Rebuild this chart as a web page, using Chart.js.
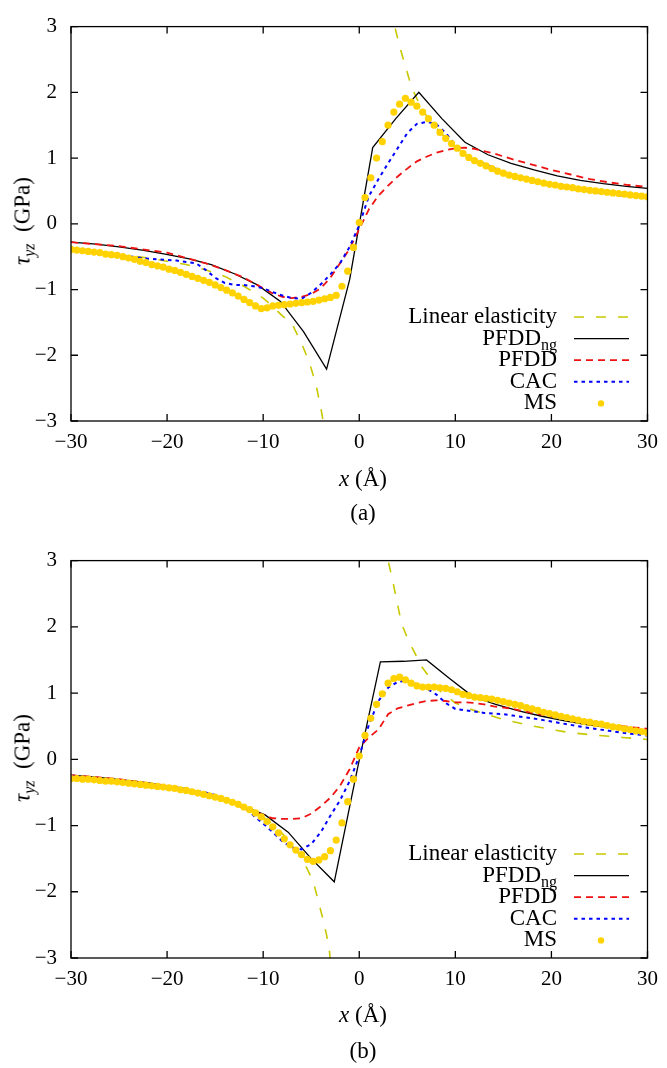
<!DOCTYPE html>
<html>
<head>
<meta charset="utf-8">
<script src="https://cdn.jsdelivr.net/npm/chart.js@4"></script>
<style>
  body { margin: 0; background: #fff; }
  #wrap { position: relative; width: 667px; height: 1068px; font-family: 'Liberation Serif', serif; color: #000; }
  canvas { position: absolute; left: 0; }
  .t { position: absolute; font-size: 23px; line-height: 1; white-space: nowrap; transform: translate(-50%, -50%); }
  .yl { transform: translate(-50%, -50%) rotate(-90deg); }
  .t sub { font-size: 16px; vertical-align: -5px; }
</style>
</head>
<body>
<div id="wrap">
  <canvas id="chartA" width="667" height="534" style="top:0"></canvas>
  <canvas id="chartB" width="667" height="534" style="top:534px"></canvas>
  <div class="t yl" style="left:24px; top:221px"><i>τ</i><sub><i>yz</i></sub>&nbsp;&nbsp;(GPa)</div>
  <div class="t" style="left:363px; top:478px"><i>x</i>&nbsp;(Å)</div>
  <div class="t" style="left:363px; top:512px">(a)</div>
  <div class="t yl" style="left:24px; top:758px"><i>τ</i><sub><i>yz</i></sub>&nbsp;&nbsp;(GPa)</div>
  <div class="t" style="left:363px; top:1014px"><i>x</i>&nbsp;(Å)</div>
  <div class="t" style="left:363px; top:1050px">(b)</div>
</div>
<script>
const xTicks = [-30, -20, -10, 0, 10, 20, 30];
const yTicks = [-3, -2, -1, 0, 1, 2, 3];
const seriesNames = ['Linear elasticity', 'PFDD', 'PFDD', 'CAC', 'MS'];

// (a) linear elasticity, null splits the two branches
const leXA = [-30, -26, -22, -18, -16, -14, -12, -10, -9, -8, -7, -6, -5.5, -5, -4.5, -4, -3.7, -3.5, 0,
  3.4, 3.7, 4.2, 4.6, 5.2, 5.7, 6.5, 7.5, 8.5, 10, 12, 14, 16, 18, 20, 23, 26, 30];
const leYA = [-0.40, -0.45, -0.52, -0.62, -0.70, -0.80, -0.95, -1.13, -1.26, -1.40, -1.52, -1.82, -2.0, -2.2, -2.45, -2.8, -3.05, -3.3, null,
  3.3, 3.0, 2.7, 2.5, 2.2, 2.0, 1.74, 1.55, 1.38, 1.17, 0.97, 0.84, 0.73, 0.66, 0.60, 0.53, 0.47, 0.41];

const ngXA = [-30, -27.4, -25.0, -22.6, -20.2, -17.8, -15.4, -13.0, -10.6, -8.2, -5.8, -3.4, -1.0, 1.4, 3.8, 6.2, 8.6, 11.0, 13.4, 15.8, 18.2, 20.6, 23.0, 25.4, 27.8, 30.0];
const ngYA = [-0.28, -0.31, -0.35, -0.40, -0.46, -0.53, -0.62, -0.76, -0.93, -1.18, -1.64, -2.21, -0.85, 1.16, 1.60, 2.00, 1.60, 1.24, 1.05, 0.92, 0.82, 0.73, 0.66, 0.61, 0.57, 0.54];

const pfXA = [-30, -25, -20, -16, -14, -12, -10, -9, -8, -7, -6, -5, -4, -3, -2, -1, 0, 1, 2, 3, 4, 5, 6, 7, 8, 9, 10, 11, 12, 14, 16, 18, 20, 22, 24, 26, 28, 30];
const pfYA = [-0.28, -0.34, -0.44, -0.60, -0.70, -0.82, -0.98, -1.06, -1.11, -1.13, -1.11, -1.07, -0.98, -0.82, -0.60, -0.38, -0.08, 0.22, 0.43, 0.58, 0.72, 0.84, 0.95, 1.02, 1.08, 1.12, 1.15, 1.16, 1.14, 1.07, 0.98, 0.90, 0.82, 0.75, 0.68, 0.63, 0.59, 0.56];

const cacXA = [-30, -26, -22, -19, -17, -16, -15, -14, -13, -12, -11, -10, -9, -8, -7, -6, -5, -4, -3, -2, -1, 0, 1, 2, 3, 4, 5, 6, 7, 8, 9, 10, 11, 12, 14, 16, 18, 20, 22, 24, 26, 28, 30];
const cacYA = [-0.40, -0.46, -0.53, -0.56, -0.60, -0.70, -0.82, -0.90, -0.93, -0.93, -0.95, -0.98, -1.04, -1.09, -1.13, -1.14, -1.05, -0.92, -0.77, -0.60, -0.35, -0.02, 0.42, 0.68, 0.92, 1.15, 1.38, 1.52, 1.55, 1.52, 1.38, 1.20, 1.07, 0.98, 0.85, 0.74, 0.65, 0.59, 0.54, 0.49, 0.45, 0.42, 0.39];

// MS sample positions (shared by both panels)
const msX = [-30, -29.4, -28.8, -28.2, -27.6, -27, -26.4, -25.8, -25.2, -24.6, -24, -23.4, -22.8, -22.2, -21.6, -21, -20.4,
  -19.8, -19.2, -18.6, -18, -17.4, -16.8, -16.2, -15.6, -15, -14.4, -13.8, -13.2, -12.6, -12, -11.4, -10.8, -10.2,
  -9.6, -9, -8.4, -7.8, -7.2, -6.6, -6, -5.4, -4.8, -4.2, -3.6, -3, -2.4, -1.8, -1.2, -0.6, 0,
  0.6, 1.2, 1.8, 2.4, 3, 3.6, 4.2, 4.8, 5.4, 6, 6.6, 7.2, 7.8, 8.4, 9, 9.6, 10.2, 10.8, 11.4, 12,
  12.6, 13.2, 13.8, 14.4, 15, 15.6, 16.2, 16.8, 17.4, 18, 18.6, 19.2, 19.8, 20.4, 21, 21.6, 22.2, 22.8,
  23.4, 24, 24.6, 25.2, 25.8, 26.4, 27, 27.6, 28.2, 28.8, 29.4, 30];
const msYA = [-0.39, -0.40, -0.41, -0.42, -0.43, -0.44, -0.46, -0.47, -0.48, -0.50, -0.52, -0.54, -0.57, -0.59, -0.62, -0.64, -0.66,
  -0.69, -0.71, -0.74, -0.77, -0.80, -0.83, -0.86, -0.89, -0.93, -0.97, -1.01, -1.05, -1.10, -1.15, -1.20, -1.25, -1.29,
  -1.28, -1.25, -1.24, -1.23, -1.22, -1.21, -1.20, -1.19, -1.18, -1.16, -1.14, -1.12, -1.09, -0.95, -0.72, -0.36, 0.02,
  0.40, 0.70, 1.00, 1.25, 1.50, 1.70, 1.82, 1.91, 1.85, 1.79, 1.70, 1.60, 1.50, 1.39, 1.30, 1.22, 1.15, 1.07, 1.01, 0.96,
  0.92, 0.88, 0.84, 0.80, 0.77, 0.74, 0.72, 0.70, 0.68, 0.66, 0.64, 0.62, 0.60, 0.59, 0.57, 0.56, 0.55, 0.53,
  0.52, 0.51, 0.50, 0.49, 0.48, 0.47, 0.46, 0.45, 0.44, 0.43, 0.42, 0.41];

// (b)
const leXB = [-30, -26, -22, -18, -16, -14, -12, -10, -9, -8, -7, -6.2, -5.5, -4.8, -4.3, -3.8, -3.4, -3.1, -2.9, 0,
  2.8, 3.0, 3.4, 3.9, 4.4, 5.1, 5.8, 6.5, 7.5, 8.5, 10, 11.5, 13, 15, 17.8, 20, 22, 25, 27.4, 30];
const leYB = [-0.27, -0.32, -0.38, -0.46, -0.52, -0.60, -0.71, -0.87, -0.98, -1.12, -1.29, -1.45, -1.63, -1.84, -2.12, -2.4, -2.65, -2.9, -3.2, null,
  3.3, 3.0, 2.75, 2.4, 2.05, 1.8, 1.6, 1.4, 1.2, 1.02, 0.85, 0.76, 0.69, 0.60, 0.51, 0.45, 0.40, 0.36, 0.33, 0.30];

const ngXB = [-30, -26.6, -24.2, -21.8, -19.4, -17.0, -14.6, -12.2, -9.8, -7.4, -5.0, -2.6, -0.2, 2.2, 4.6, 7.0, 9.4, 11.8, 14.2, 16.6, 19.0, 21.4, 23.8, 26.2, 28.6, 30];
const ngYB = [-0.24, -0.28, -0.32, -0.36, -0.42, -0.49, -0.58, -0.70, -0.84, -1.10, -1.50, -1.85, -0.15, 1.47, 1.48, 1.50, 1.22, 0.95, 0.83, 0.73, 0.65, 0.58, 0.52, 0.48, 0.45, 0.43];

const pfXB = [-30, -25, -20, -16, -14, -12, -10, -9, -8, -7, -6, -5, -4, -3, -2, -1, 0, 1, 2, 3, 4, 5, 6, 7, 8, 9, 10, 11, 12, 13, 14, 16, 18, 20, 22, 24, 26, 28, 30];
const pfYB = [-0.24, -0.30, -0.40, -0.52, -0.60, -0.74, -0.84, -0.89, -0.90, -0.90, -0.89, -0.82, -0.71, -0.58, -0.40, -0.15, 0.18, 0.33, 0.45, 0.68, 0.77, 0.81, 0.85, 0.88, 0.89, 0.88, 0.86, 0.86, 0.85, 0.83, 0.80, 0.76, 0.70, 0.65, 0.60, 0.56, 0.52, 0.49, 0.46];

const cacXB = [-30, -25, -20, -16, -14, -13, -12, -11, -10, -9, -8, -7, -6, -5, -4, -3, -2, -1, 0, 1, 2, 3, 4, 5, 6, 7, 8, 9, 10, 11, 12, 13, 14, 15, 16, 18, 20, 22, 24, 26, 28, 30];
const cacYB = [-0.26, -0.32, -0.40, -0.50, -0.58, -0.65, -0.72, -0.85, -0.97, -1.10, -1.24, -1.33, -1.36, -1.28, -1.10, -0.85, -0.62, -0.33, 0.05, 0.52, 0.88, 1.08, 1.17, 1.19, 1.13, 1.07, 0.98, 0.85, 0.76, 0.74, 0.72, 0.70, 0.69, 0.68, 0.66, 0.62, 0.57, 0.52, 0.47, 0.43, 0.39, 0.36];

const msYB = [-0.29, -0.29, -0.30, -0.30, -0.31, -0.32, -0.33, -0.33, -0.34, -0.35, -0.36, -0.37, -0.38, -0.39, -0.40, -0.41, -0.42,
  -0.43, -0.44, -0.46, -0.47, -0.49, -0.51, -0.53, -0.55, -0.57, -0.59, -0.62, -0.65, -0.68, -0.72, -0.76, -0.81, -0.87,
  -0.94, -1.02, -1.11, -1.20, -1.29, -1.37, -1.44, -1.51, -1.54, -1.52, -1.47, -1.38, -1.22, -0.96, -0.64, -0.30, 0.05,
  0.36, 0.62, 0.83, 0.99, 1.15, 1.22, 1.24, 1.20, 1.15, 1.11, 1.09, 1.09, 1.09, 1.08, 1.07, 1.05, 1.02, 0.98, 0.96, 0.94,
  0.93, 0.92, 0.91, 0.89, 0.87, 0.85, 0.83, 0.81, 0.78, 0.76, 0.74, 0.71, 0.69, 0.67, 0.65, 0.63, 0.61, 0.59,
  0.57, 0.56, 0.54, 0.53, 0.51, 0.49, 0.48, 0.46, 0.45, 0.43, 0.42, 0.40];

const FONT = "'Liberation Serif', serif";
const pts = (xs, ys) => xs.map((x, i) => ({ x: x, y: ys[i] }));
const minus = v => (v < 0 ? '\u2212' + Math.abs(v) : String(v));

// border plus inward ticks on all four sides
const framePlugin = {
  id: 'frame',
  afterDatasetsDraw(chart) {
    const { ctx, chartArea: a, scales: { x, y } } = chart;
    ctx.save();
    ctx.strokeStyle = '#000';
    ctx.lineWidth = 1.3;
    ctx.setLineDash([]);
    ctx.strokeRect(a.left, a.top, a.right - a.left, a.bottom - a.top);
    ctx.beginPath();
    x.ticks.forEach(t => {
      const px = x.getPixelForValue(t.value);
      ctx.moveTo(px, a.bottom); ctx.lineTo(px, a.bottom - 7);
      ctx.moveTo(px, a.top); ctx.lineTo(px, a.top + 7);
    });
    y.ticks.forEach(t => {
      const py = y.getPixelForValue(t.value);
      ctx.moveTo(a.left, py); ctx.lineTo(a.left + 7, py);
      ctx.moveTo(a.right, py); ctx.lineTo(a.right - 7, py);
    });
    ctx.stroke();
    ctx.restore();
  }
};

// gnuplot-like key inside the bottom right corner
const keyPlugin = {
  id: 'key',
  afterDraw(chart) {
    const { ctx, chartArea: a } = chart;
    ctx.save();
    chart.data.datasets.forEach((ds, i) => {
      const yy = a.bottom - 104 + i * 21.6;
      ctx.font = '23px ' + FONT;
      ctx.fillStyle = '#000';
      ctx.textBaseline = 'middle';
      ctx.textAlign = 'right';
      let tx = 557;
      if (ds.labelSub) {
        ctx.font = '16px ' + FONT;
        const w = ctx.measureText(ds.labelSub).width;
        ctx.fillText(ds.labelSub, tx, yy + 7);
        tx -= w;
        ctx.font = '23px ' + FONT;
      }
      ctx.fillText(ds.label, tx, yy);
      if (ds.showLine === false) {
        ctx.fillStyle = ds.pointBackgroundColor;
        ctx.beginPath();
        ctx.arc(601, yy, 3.2, 0, Math.PI * 2);
        ctx.fill();
      } else {
        ctx.strokeStyle = ds.borderColor;
        ctx.lineWidth = ds.borderWidth;
        ctx.setLineDash(ds.borderDash || []);
        ctx.beginPath();
        ctx.moveTo(574, yy);
        ctx.lineTo(629, yy);
        ctx.stroke();
      }
    });
    ctx.restore();
  }
};

function makeChart(id, d, padTop, xAxisH) {
  return new Chart(document.getElementById(id), {
    type: 'line',
    data: {
      datasets: [
        { label: seriesNames[0], data: pts(d.leX, d.leY), borderColor: '#c8c800', borderWidth: 1.6, borderDash: [10, 12], pointRadius: 0, spanGaps: false, order: 5 },
        { label: seriesNames[1], labelSub: 'ng', data: pts(d.ngX, d.ngY), borderColor: '#000000', borderWidth: 1.3, pointRadius: 0, order: 4 },
        { label: seriesNames[2], data: pts(d.pfX, d.pfY), borderColor: '#ee1111', borderWidth: 1.8, borderDash: [7, 5], pointRadius: 0, order: 3 },
        { label: seriesNames[3], data: pts(d.cacX, d.cacY), borderColor: '#0000ff', borderWidth: 2, borderDash: [3.5, 4], pointRadius: 0, order: 2 },
        { label: seriesNames[4], data: pts(msX, d.msY), showLine: false, pointRadius: 3.6, pointBorderWidth: 0, pointBackgroundColor: '#ffd200', borderColor: '#ffd200', order: 1 }
      ]
    },
    options: {
      responsive: false,
      animation: false,
      layout: { padding: { top: padTop, right: 12, left: 0, bottom: 0 } },
      plugins: { legend: { display: false }, tooltip: { enabled: false } },
      scales: {
        x: {
          type: 'linear', min: xTicks[0], max: xTicks[xTicks.length - 1],
          afterFit: s => { s.height = xAxisH; },
          afterBuildTicks: s => { s.ticks = xTicks.map(v => ({ value: v })); },
          grid: { display: false, drawTicks: false },
          border: { display: false },
          ticks: { padding: 9, color: '#000', font: { family: FONT, size: 21 }, maxRotation: 0, callback: minus }
        },
        y: {
          type: 'linear', min: yTicks[0], max: yTicks[yTicks.length - 1],
          afterFit: s => { s.width = 71; },
          afterBuildTicks: s => { s.ticks = yTicks.map(v => ({ value: v })); },
          grid: { display: false, drawTicks: false },
          border: { display: false },
          ticks: { padding: 14, color: '#000', font: { family: FONT, size: 21 }, callback: minus }
        }
      }
    },
    plugins: [framePlugin, keyPlugin]
  });
}

makeChart('chartA', { leX: leXA, leY: leYA, ngX: ngXA, ngY: ngYA, pfX: pfXA, pfY: pfYA, cacX: cacXA, cacY: cacYA, msY: msYA }, 19, 113);
makeChart('chartB', { leX: leXB, leY: leYB, ngX: ngXB, ngY: ngYB, pfX: pfXB, pfY: pfYB, cacX: cacXB, cacY: cacYB, msY: msYB }, 23, 110);
</script>
</body>
</html>
